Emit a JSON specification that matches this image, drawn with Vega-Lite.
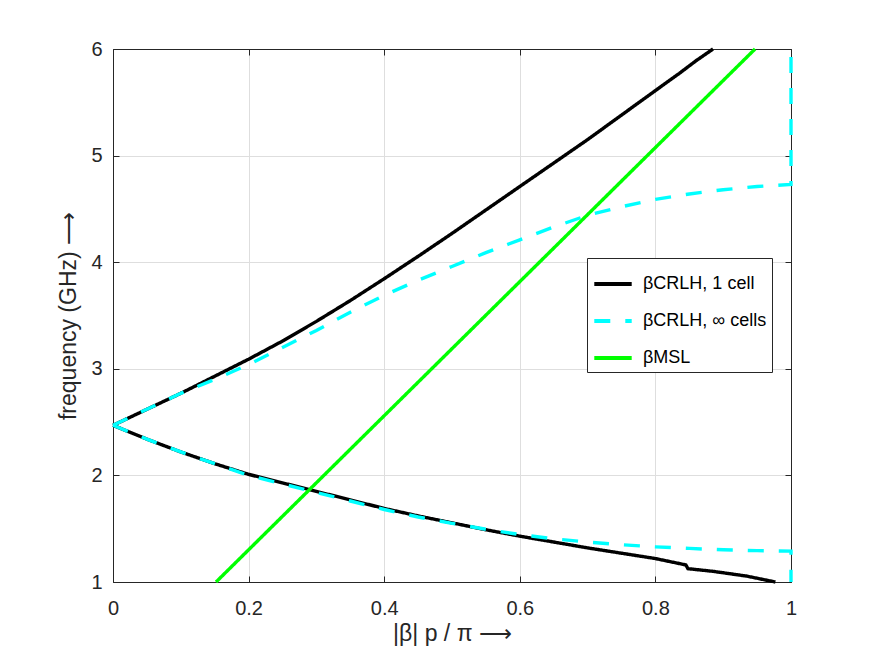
{
  "$schema": "https://vega.github.io/schema/vega-lite/v6.json",
  "width": 678,
  "height": 533,
  "autosize": {"type": "none"},
  "padding": {"left": 113, "top": 49, "right": 83, "bottom": 73},
  "background": "white",
  "config": {
    "font": "Liberation Sans",
    "view": {"stroke": "#262626", "strokeWidth": 1},
    "axis": {
      "labelFont": "Liberation Sans",
      "titleFont": "Liberation Sans",
      "labelColor": "#262626",
      "titleColor": "#262626",
      "labelFontSize": 20,
      "titleFontSize": 23,
      "titleFontWeight": "normal",
      "labelFlush": false,
      "domainColor": "#262626",
      "tickColor": "#262626",
      "tickSize": -6,
      "gridColor": "#dedede",
      "gridWidth": 1
    },
    "legend": {
      "labelFont": "Liberation Sans",
      "labelFontSize": 18,
      "labelColor": "#000000"
    }
  },
  "datasets": {
    "curves": [
      {"s": "βCRLH, 1 cell", "b": "up", "i": 0, "x": 0.0, "f": 2.47},
      {"s": "βCRLH, 1 cell", "b": "up", "i": 1, "x": 0.05, "f": 2.62},
      {"s": "βCRLH, 1 cell", "b": "up", "i": 2, "x": 0.1, "f": 2.77},
      {"s": "βCRLH, 1 cell", "b": "up", "i": 3, "x": 0.15, "f": 2.93},
      {"s": "βCRLH, 1 cell", "b": "up", "i": 4, "x": 0.2, "f": 3.09},
      {"s": "βCRLH, 1 cell", "b": "up", "i": 5, "x": 0.25, "f": 3.26},
      {"s": "βCRLH, 1 cell", "b": "up", "i": 6, "x": 0.3, "f": 3.445},
      {"s": "βCRLH, 1 cell", "b": "up", "i": 7, "x": 0.35, "f": 3.64},
      {"s": "βCRLH, 1 cell", "b": "up", "i": 8, "x": 0.4, "f": 3.845},
      {"s": "βCRLH, 1 cell", "b": "up", "i": 9, "x": 0.45, "f": 4.055},
      {"s": "βCRLH, 1 cell", "b": "up", "i": 10, "x": 0.5, "f": 4.27},
      {"s": "βCRLH, 1 cell", "b": "up", "i": 11, "x": 0.55, "f": 4.49},
      {"s": "βCRLH, 1 cell", "b": "up", "i": 12, "x": 0.6, "f": 4.71},
      {"s": "βCRLH, 1 cell", "b": "up", "i": 13, "x": 0.65, "f": 4.93},
      {"s": "βCRLH, 1 cell", "b": "up", "i": 14, "x": 0.7, "f": 5.15},
      {"s": "βCRLH, 1 cell", "b": "up", "i": 15, "x": 0.75, "f": 5.38},
      {"s": "βCRLH, 1 cell", "b": "up", "i": 16, "x": 0.8, "f": 5.61},
      {"s": "βCRLH, 1 cell", "b": "up", "i": 17, "x": 0.835, "f": 5.77},
      {"s": "βCRLH, 1 cell", "b": "up", "i": 18, "x": 0.86, "f": 5.89},
      {"s": "βCRLH, 1 cell", "b": "up", "i": 19, "x": 0.885, "f": 6.0},
      {"s": "βCRLH, 1 cell", "b": "down", "i": 0, "x": 0.0, "f": 2.47},
      {"s": "βCRLH, 1 cell", "b": "down", "i": 1, "x": 0.05, "f": 2.34},
      {"s": "βCRLH, 1 cell", "b": "down", "i": 2, "x": 0.1, "f": 2.22},
      {"s": "βCRLH, 1 cell", "b": "down", "i": 3, "x": 0.15, "f": 2.11},
      {"s": "βCRLH, 1 cell", "b": "down", "i": 4, "x": 0.2, "f": 2.01},
      {"s": "βCRLH, 1 cell", "b": "down", "i": 5, "x": 0.25, "f": 1.93},
      {"s": "βCRLH, 1 cell", "b": "down", "i": 6, "x": 0.3, "f": 1.85},
      {"s": "βCRLH, 1 cell", "b": "down", "i": 7, "x": 0.35, "f": 1.77},
      {"s": "βCRLH, 1 cell", "b": "down", "i": 8, "x": 0.4, "f": 1.69},
      {"s": "βCRLH, 1 cell", "b": "down", "i": 9, "x": 0.45, "f": 1.62},
      {"s": "βCRLH, 1 cell", "b": "down", "i": 10, "x": 0.5, "f": 1.555},
      {"s": "βCRLH, 1 cell", "b": "down", "i": 11, "x": 0.55, "f": 1.49},
      {"s": "βCRLH, 1 cell", "b": "down", "i": 12, "x": 0.6, "f": 1.43},
      {"s": "βCRLH, 1 cell", "b": "down", "i": 13, "x": 0.65, "f": 1.375},
      {"s": "βCRLH, 1 cell", "b": "down", "i": 14, "x": 0.7, "f": 1.32},
      {"s": "βCRLH, 1 cell", "b": "down", "i": 15, "x": 0.75, "f": 1.27},
      {"s": "βCRLH, 1 cell", "b": "down", "i": 16, "x": 0.8, "f": 1.22},
      {"s": "βCRLH, 1 cell", "b": "down", "i": 17, "x": 0.845, "f": 1.16},
      {"s": "βCRLH, 1 cell", "b": "down", "i": 18, "x": 0.848, "f": 1.125},
      {"s": "βCRLH, 1 cell", "b": "down", "i": 19, "x": 0.885, "f": 1.1},
      {"s": "βCRLH, 1 cell", "b": "down", "i": 20, "x": 0.934, "f": 1.056},
      {"s": "βCRLH, 1 cell", "b": "down", "i": 21, "x": 0.977, "f": 1.0},
      {"s": "βCRLH, ∞ cells", "b": "up", "i": 0, "x": 0.0, "f": 2.47},
      {"s": "βCRLH, ∞ cells", "b": "up", "i": 1, "x": 0.05, "f": 2.62},
      {"s": "βCRLH, ∞ cells", "b": "up", "i": 2, "x": 0.1, "f": 2.77},
      {"s": "βCRLH, ∞ cells", "b": "up", "i": 3, "x": 0.15, "f": 2.9},
      {"s": "βCRLH, ∞ cells", "b": "up", "i": 4, "x": 0.2, "f": 3.04},
      {"s": "βCRLH, ∞ cells", "b": "up", "i": 5, "x": 0.25, "f": 3.2},
      {"s": "βCRLH, ∞ cells", "b": "up", "i": 6, "x": 0.3, "f": 3.36},
      {"s": "βCRLH, ∞ cells", "b": "up", "i": 7, "x": 0.35, "f": 3.53},
      {"s": "βCRLH, ∞ cells", "b": "up", "i": 8, "x": 0.4, "f": 3.69},
      {"s": "βCRLH, ∞ cells", "b": "up", "i": 9, "x": 0.45, "f": 3.83},
      {"s": "βCRLH, ∞ cells", "b": "up", "i": 10, "x": 0.5, "f": 3.96},
      {"s": "βCRLH, ∞ cells", "b": "up", "i": 11, "x": 0.55, "f": 4.09},
      {"s": "βCRLH, ∞ cells", "b": "up", "i": 12, "x": 0.6, "f": 4.21},
      {"s": "βCRLH, ∞ cells", "b": "up", "i": 13, "x": 0.65, "f": 4.33},
      {"s": "βCRLH, ∞ cells", "b": "up", "i": 14, "x": 0.7, "f": 4.44},
      {"s": "βCRLH, ∞ cells", "b": "up", "i": 15, "x": 0.75, "f": 4.52},
      {"s": "βCRLH, ∞ cells", "b": "up", "i": 16, "x": 0.8, "f": 4.59},
      {"s": "βCRLH, ∞ cells", "b": "up", "i": 17, "x": 0.85, "f": 4.64},
      {"s": "βCRLH, ∞ cells", "b": "up", "i": 18, "x": 0.9, "f": 4.68},
      {"s": "βCRLH, ∞ cells", "b": "up", "i": 19, "x": 0.95, "f": 4.71},
      {"s": "βCRLH, ∞ cells", "b": "up", "i": 20, "x": 1.0, "f": 4.73},
      {"s": "βCRLH, ∞ cells", "b": "up", "i": 21, "x": 1.0, "f": 6.0},
      {"s": "βCRLH, ∞ cells", "b": "down", "i": 0, "x": 0.0, "f": 2.47},
      {"s": "βCRLH, ∞ cells", "b": "down", "i": 1, "x": 0.05, "f": 2.34},
      {"s": "βCRLH, ∞ cells", "b": "down", "i": 2, "x": 0.1, "f": 2.22},
      {"s": "βCRLH, ∞ cells", "b": "down", "i": 3, "x": 0.15, "f": 2.11},
      {"s": "βCRLH, ∞ cells", "b": "down", "i": 4, "x": 0.2, "f": 2.0},
      {"s": "βCRLH, ∞ cells", "b": "down", "i": 5, "x": 0.25, "f": 1.92},
      {"s": "βCRLH, ∞ cells", "b": "down", "i": 6, "x": 0.3, "f": 1.84},
      {"s": "βCRLH, ∞ cells", "b": "down", "i": 7, "x": 0.35, "f": 1.76},
      {"s": "βCRLH, ∞ cells", "b": "down", "i": 8, "x": 0.4, "f": 1.68},
      {"s": "βCRLH, ∞ cells", "b": "down", "i": 9, "x": 0.45, "f": 1.61},
      {"s": "βCRLH, ∞ cells", "b": "down", "i": 10, "x": 0.5, "f": 1.55},
      {"s": "βCRLH, ∞ cells", "b": "down", "i": 11, "x": 0.55, "f": 1.495},
      {"s": "βCRLH, ∞ cells", "b": "down", "i": 12, "x": 0.6, "f": 1.445},
      {"s": "βCRLH, ∞ cells", "b": "down", "i": 13, "x": 0.65, "f": 1.405},
      {"s": "βCRLH, ∞ cells", "b": "down", "i": 14, "x": 0.7, "f": 1.375},
      {"s": "βCRLH, ∞ cells", "b": "down", "i": 15, "x": 0.75, "f": 1.35},
      {"s": "βCRLH, ∞ cells", "b": "down", "i": 16, "x": 0.8, "f": 1.33},
      {"s": "βCRLH, ∞ cells", "b": "down", "i": 17, "x": 0.85, "f": 1.315},
      {"s": "βCRLH, ∞ cells", "b": "down", "i": 18, "x": 0.9, "f": 1.302},
      {"s": "βCRLH, ∞ cells", "b": "down", "i": 19, "x": 0.95, "f": 1.294},
      {"s": "βCRLH, ∞ cells", "b": "down", "i": 20, "x": 1.0, "f": 1.29},
      {"s": "βCRLH, ∞ cells", "b": "down", "i": 21, "x": 1.0, "f": 1.0},
      {"s": "βMSL", "b": "up", "i": 0, "x": 0.152, "f": 1.0},
      {"s": "βMSL", "b": "up", "i": 1, "x": 0.311, "f": 2.0},
      {"s": "βMSL", "b": "up", "i": 2, "x": 0.47, "f": 3.0},
      {"s": "βMSL", "b": "up", "i": 3, "x": 0.629, "f": 4.0},
      {"s": "βMSL", "b": "up", "i": 4, "x": 0.788, "f": 5.0},
      {"s": "βMSL", "b": "up", "i": 5, "x": 0.947, "f": 6.0}
    ]
  },
  "data": {"name": "curves"},
  "encoding": {
    "color": {
      "field": "s",
      "type": "nominal",
      "scale": {
        "domain": ["βCRLH, 1 cell", "βCRLH, ∞ cells", "βMSL"],
        "range": ["#000000", "#00ffff", "#00ff00"]
      },
      "legend": {
        "title": null,
        "orient": "none",
        "legendX": 474,
        "legendY": 209,
        "direction": "vertical",
        "symbolType": "stroke",
        "symbolSize": 1400,
        "symbolStrokeWidth": 4,
        "strokeColor": "#262626",
        "fillColor": "white",
        "padding": 5,
        "rowPadding": 7,
        "labelOffset": 9,
        "labelLimit": 300
      }
    },
    "strokeDash": {
      "field": "s",
      "type": "nominal",
      "scale": {
        "domain": ["βCRLH, 1 cell", "βCRLH, ∞ cells", "βMSL"],
        "range": [[1, 0], [16, 15], [1, 0]]
      },
      "legend": {
        "title": null,
        "orient": "none",
        "legendX": 474,
        "legendY": 209,
        "direction": "vertical",
        "symbolType": "stroke",
        "symbolSize": 1400,
        "symbolStrokeWidth": 4,
        "strokeColor": "#262626",
        "fillColor": "white",
        "padding": 5,
        "rowPadding": 7,
        "labelOffset": 9,
        "labelLimit": 300
      }
    },
    "detail": {"field": "b", "type": "nominal"},
    "order": {"field": "i", "type": "quantitative"}
  },
  "layer": [
    {
      "transform": [{"filter": "datum.s === 'βCRLH, 1 cell'"}],
      "mark": {"type": "line", "strokeWidth": 3.4, "clip": false},
      "encoding": {
        "x": {
          "field": "x",
          "type": "quantitative",
          "scale": {"domain": [0, 1], "nice": false, "zero": false},
          "axis": {
            "values": [0, 0.2, 0.4, 0.6, 0.8, 1],
            "format": "~g",
            "title": "|β| p / π ⟶",
            "labelPadding": 22,
            "titlePadding": 4,
            "grid": true
          }
        },
        "y": {
          "field": "f",
          "type": "quantitative",
          "scale": {"domain": [1, 6], "nice": false, "zero": false},
          "axis": {
            "values": [1, 2, 3, 4, 5, 6],
            "title": "frequency (GHz) ⟶",
            "labelPadding": 17,
            "titlePadding": 10,
            "grid": true
          }
        }
      }
    },
    {
      "transform": [{"filter": "datum.s === 'βCRLH, ∞ cells'"}],
      "mark": {"type": "line", "strokeWidth": 3.4, "clip": false},
      "encoding": {
        "x": {"field": "x", "type": "quantitative", "axis": null},
        "y": {"field": "f", "type": "quantitative", "axis": null}
      }
    },
    {
      "transform": [{"filter": "datum.s === 'βMSL'"}],
      "mark": {"type": "line", "strokeWidth": 3.4, "clip": false},
      "encoding": {
        "x": {
          "field": "x",
          "type": "quantitative",
          "axis": {
            "orient": "top",
            "values": [0, 0.2, 0.4, 0.6, 0.8, 1],
            "labels": false,
            "grid": false,
            "title": null
          }
        },
        "y": {
          "field": "f",
          "type": "quantitative",
          "axis": {
            "orient": "right",
            "values": [1, 2, 3, 4, 5, 6],
            "labels": false,
            "grid": false,
            "title": null
          }
        }
      }
    }
  ],
  "resolve": {"axis": {"x": "independent", "y": "independent"}}
}
